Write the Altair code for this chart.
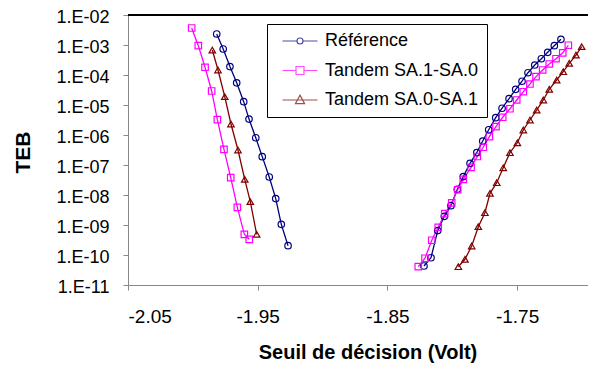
import altair as alt
import pandas as pd

series_names = ["Référence", "Tandem SA.1-SA.0", "Tandem SA.0-SA.1"]
series_colors = ["#000080", "#FF00FF", "#800000"]

# Référence
ref_left_x = [-1.9816, -1.9766, -1.9714, -1.9662, -1.9608, -1.9567, -1.9515, -1.9465, -1.9411, -1.9361, -1.9318, -1.9266]
ref_left_teb = [2.33e-3, 7.36e-4, 1.91e-4, 5.5e-5, 1.29e-5, 3.39e-6, 8.1e-7, 1.9e-7, 3.98e-8, 7.6e-9, 1.05e-9, 2.04e-10]
ref_right_x = [-1.8218, -1.8164, -1.8112, -1.8061, -1.8010, -1.7961, -1.7915, -1.7863, -1.7811, -1.7765, -1.7719,
               -1.7665, -1.7616, -1.7562, -1.7511, -1.7462, -1.7416, -1.7364, -1.7313, -1.7264, -1.7213, -1.7162]
ref_right_teb = [4.3e-11, 8.1e-11, 6.5e-10, 1.95e-9, 4.4e-9, 1.55e-8, 4.1e-8, 1.14e-7, 2.57e-7, 6.3e-7, 1.5e-6,
                 3.78e-6, 7.8e-6, 1.62e-5, 3.33e-5, 6.2e-5, 1.19e-4, 2.15e-4, 3.49e-4, 5.7e-4, 9.5e-4, 1.55e-3]

# Tandem SA.1-SA.0
t10_left_x = [-2.0009, -1.9958, -1.9906, -1.9855, -1.9811, -1.9760, -1.9708, -1.9657, -1.9603, -1.9565]
t10_left_teb = [3.69e-3, 9.5e-4, 1.81e-4, 2.93e-5, 3.24e-6, 3.33e-7, 3.78e-8, 3.89e-9, 4.9e-10, 3.33e-10]
t10_right_x = [-1.8262, -1.8210, -1.8158, -1.8108, -1.8058, -1.8004, -1.7958, -1.7915, -1.7855, -1.7807, -1.7761, -1.7714,
               -1.7663, -1.7611, -1.7555, -1.7503, -1.7452, -1.7401, -1.7354, -1.7303, -1.7252, -1.7200, -1.7148, -1.7105]
t10_right_teb = [4.07e-11, 7.8e-11, 3.1e-10, 8.4e-10, 2.38e-9, 5.5e-9, 1.5e-8, 3.33e-8, 8.3e-8, 1.92e-7, 3.9e-7, 8.8e-7,
                 1.89e-6, 3.9e-6, 7.5e-6, 1.47e-5, 2.77e-5, 5.0e-5, 8.8e-5, 1.47e-4, 2.33e-4, 3.49e-4, 5.5e-4, 9.8e-4]

# Tandem SA.0-SA.1
t01_left_x = [-1.9850, -1.9806, -1.9754, -1.9706, -1.9652, -1.9600, -1.9557, -1.9508]
t01_left_teb = [6.8e-4, 1.47e-4, 1.9e-5, 2.33e-6, 3.16e-7, 3.33e-8, 6.0e-9, 4.9e-10]
t01_right_x = [-1.7953, -1.7902, -1.7850, -1.7799, -1.7748, -1.7709, -1.7657, -1.7607, -1.7555, -1.7498,
               -1.7452, -1.7401, -1.7349, -1.7298, -1.7252, -1.7195, -1.7144, -1.7098, -1.7046, -1.7002]
t01_right_teb = [4.07e-11, 7.2e-11, 2.0e-10, 8.8e-10, 2.57e-9, 1.14e-8, 2.57e-8, 8.1e-8, 2.57e-7, 5.5e-7,
                 1.47e-6, 3.16e-6, 6.8e-6, 1.47e-5, 3.33e-5, 6.8e-5, 1.29e-4, 2.45e-4, 4.6e-4, 8.8e-4]

x_ticks = [-2.05, -1.95, -1.85, -1.75]
y_ticks = [1e-2, 1e-3, 1e-4, 1e-5, 1e-6, 1e-7, 1e-8, 1e-9, 1e-10, 1e-11]

rows = []
def add(name, branch, xs, ys):
    for i, (a, b) in enumerate(zip(xs, ys)):
        rows.append({"x": a, "teb": b, "series": name, "branch": name + branch, "order": i})

add(series_names[0], "L", ref_left_x, ref_left_teb)
add(series_names[0], "R", ref_right_x, ref_right_teb)
add(series_names[1], "L", t10_left_x, t10_left_teb)
add(series_names[1], "R", t10_right_x, t10_right_teb)
add(series_names[2], "L", t01_left_x, t01_left_teb)
add(series_names[2], "R", t01_right_x, t01_right_teb)
df = pd.DataFrame(rows)

W, H = 460, 270
FONT = "Liberation Sans"

x_enc = alt.X("x:Q",
              scale=alt.Scale(domain=[-2.05, -2.05 + W / 1297.0], nice=False, zero=False),
              axis=alt.Axis(values=x_ticks, labelExpr="'-' + format(abs(datum.value), '.2f')",
                            title="Seuil de décision (Volt)", grid=False,
                            tickSize=5, labelPadding=17, labelFontSize=19, labelFont=FONT,
                            titleFont=FONT, titleFontSize=20, titleFontWeight="bold", titleColor="black",
                            titleX=239.5, titleY=73.3, titleBaseline="alphabetic", titleAlign="center"))
y_enc = alt.Y("teb:Q",
              scale=alt.Scale(type="log", domain=[1e-11, 1e-2], nice=False),
              axis=alt.Axis(values=y_ticks,
                            labelExpr="(datum.value >= 1e-9 ? '1.E-0' : '1.E-') + round(-log(datum.value)/LN10)",
                            title="TEB", grid=False, tickSize=5, labelPadding=14, labelFontSize=18, labelFont=FONT,
                            labelOffset=2,
                            titleFont=FONT, titleFontSize=21, titleFontWeight="bold", titleColor="black",
                            titleX=-98.7, titleY=137, titleBaseline="alphabetic", titleAlign="center"))

lines = alt.Chart(df).mark_line(strokeWidth=1.3).encode(
    x=x_enc, y=y_enc,
    color=alt.Color("series:N", scale=alt.Scale(domain=series_names, range=series_colors), legend=None),
    detail="branch:N", order="order:Q")

points = alt.Chart(df).mark_point(filled=False, strokeWidth=1.2, size=42, opacity=1).encode(
    x=x_enc, y=y_enc,
    color=alt.Color("series:N", scale=alt.Scale(domain=series_names, range=series_colors), legend=None),
    shape=alt.Shape("series:N", scale=alt.Scale(domain=series_names, range=["circle", "square", "triangle-up"]), legend=None))

legend_paths = [
    "M-0.723,0H-0.124M0.124,0H0.723M-0.124,0A0.124,0.124 0 1,0 0.124,0A0.124,0.124 0 1,0 -0.124,0",
    "M-0.723,0H-0.165M0.165,0H0.723M-0.165,-0.165H0.165V0.165H-0.165Z",
    "M-0.723,0H0.723M0,-0.2L0.19,0.15H-0.19Z",
]
leg = dict(title=None, orient="none", legendX=139, legendY=9, direction="vertical",
           fillColor="white", strokeColor="black", padding=8, labelFont=FONT, labelFontSize=18,
           labelOffset=0, symbolSize=2343, rowPadding=11.5, clipHeight=18, symbolStrokeWidth=1.2,
           labelLimit=400, labelColor="black")

legend_layer = alt.Chart(df).transform_filter("false").mark_point(filled=False, strokeWidth=1.2).encode(
    color=alt.Color("series:N", scale=alt.Scale(domain=series_names, range=series_colors), legend=alt.Legend(**leg)),
    shape=alt.Shape("series:N", scale=alt.Scale(domain=series_names, range=legend_paths), legend=alt.Legend(**leg)))

top_rule = alt.Chart(pd.DataFrame({"k": [1]})).mark_rule(color="black", strokeWidth=2).encode(
    x=alt.value(0), x2=alt.value(W), y=alt.value(0))

chart = alt.layer(lines, points, legend_layer, top_rule).resolve_scale(
    color="independent", shape="independent"
).properties(
    width=W, height=H,
    autosize=alt.AutoSizeParams(type="none"),
    padding={"left": 120, "top": 7, "right": 0, "bottom": 78},
).configure_view(stroke=None).configure_axis(
    labelColor="black", domainColor="black", domainWidth=2,
    tickColor="black", tickWidth=1,
).configure(background="white")

chart.save("out.html", embed_options={"renderer": "svg", "actions": False})
